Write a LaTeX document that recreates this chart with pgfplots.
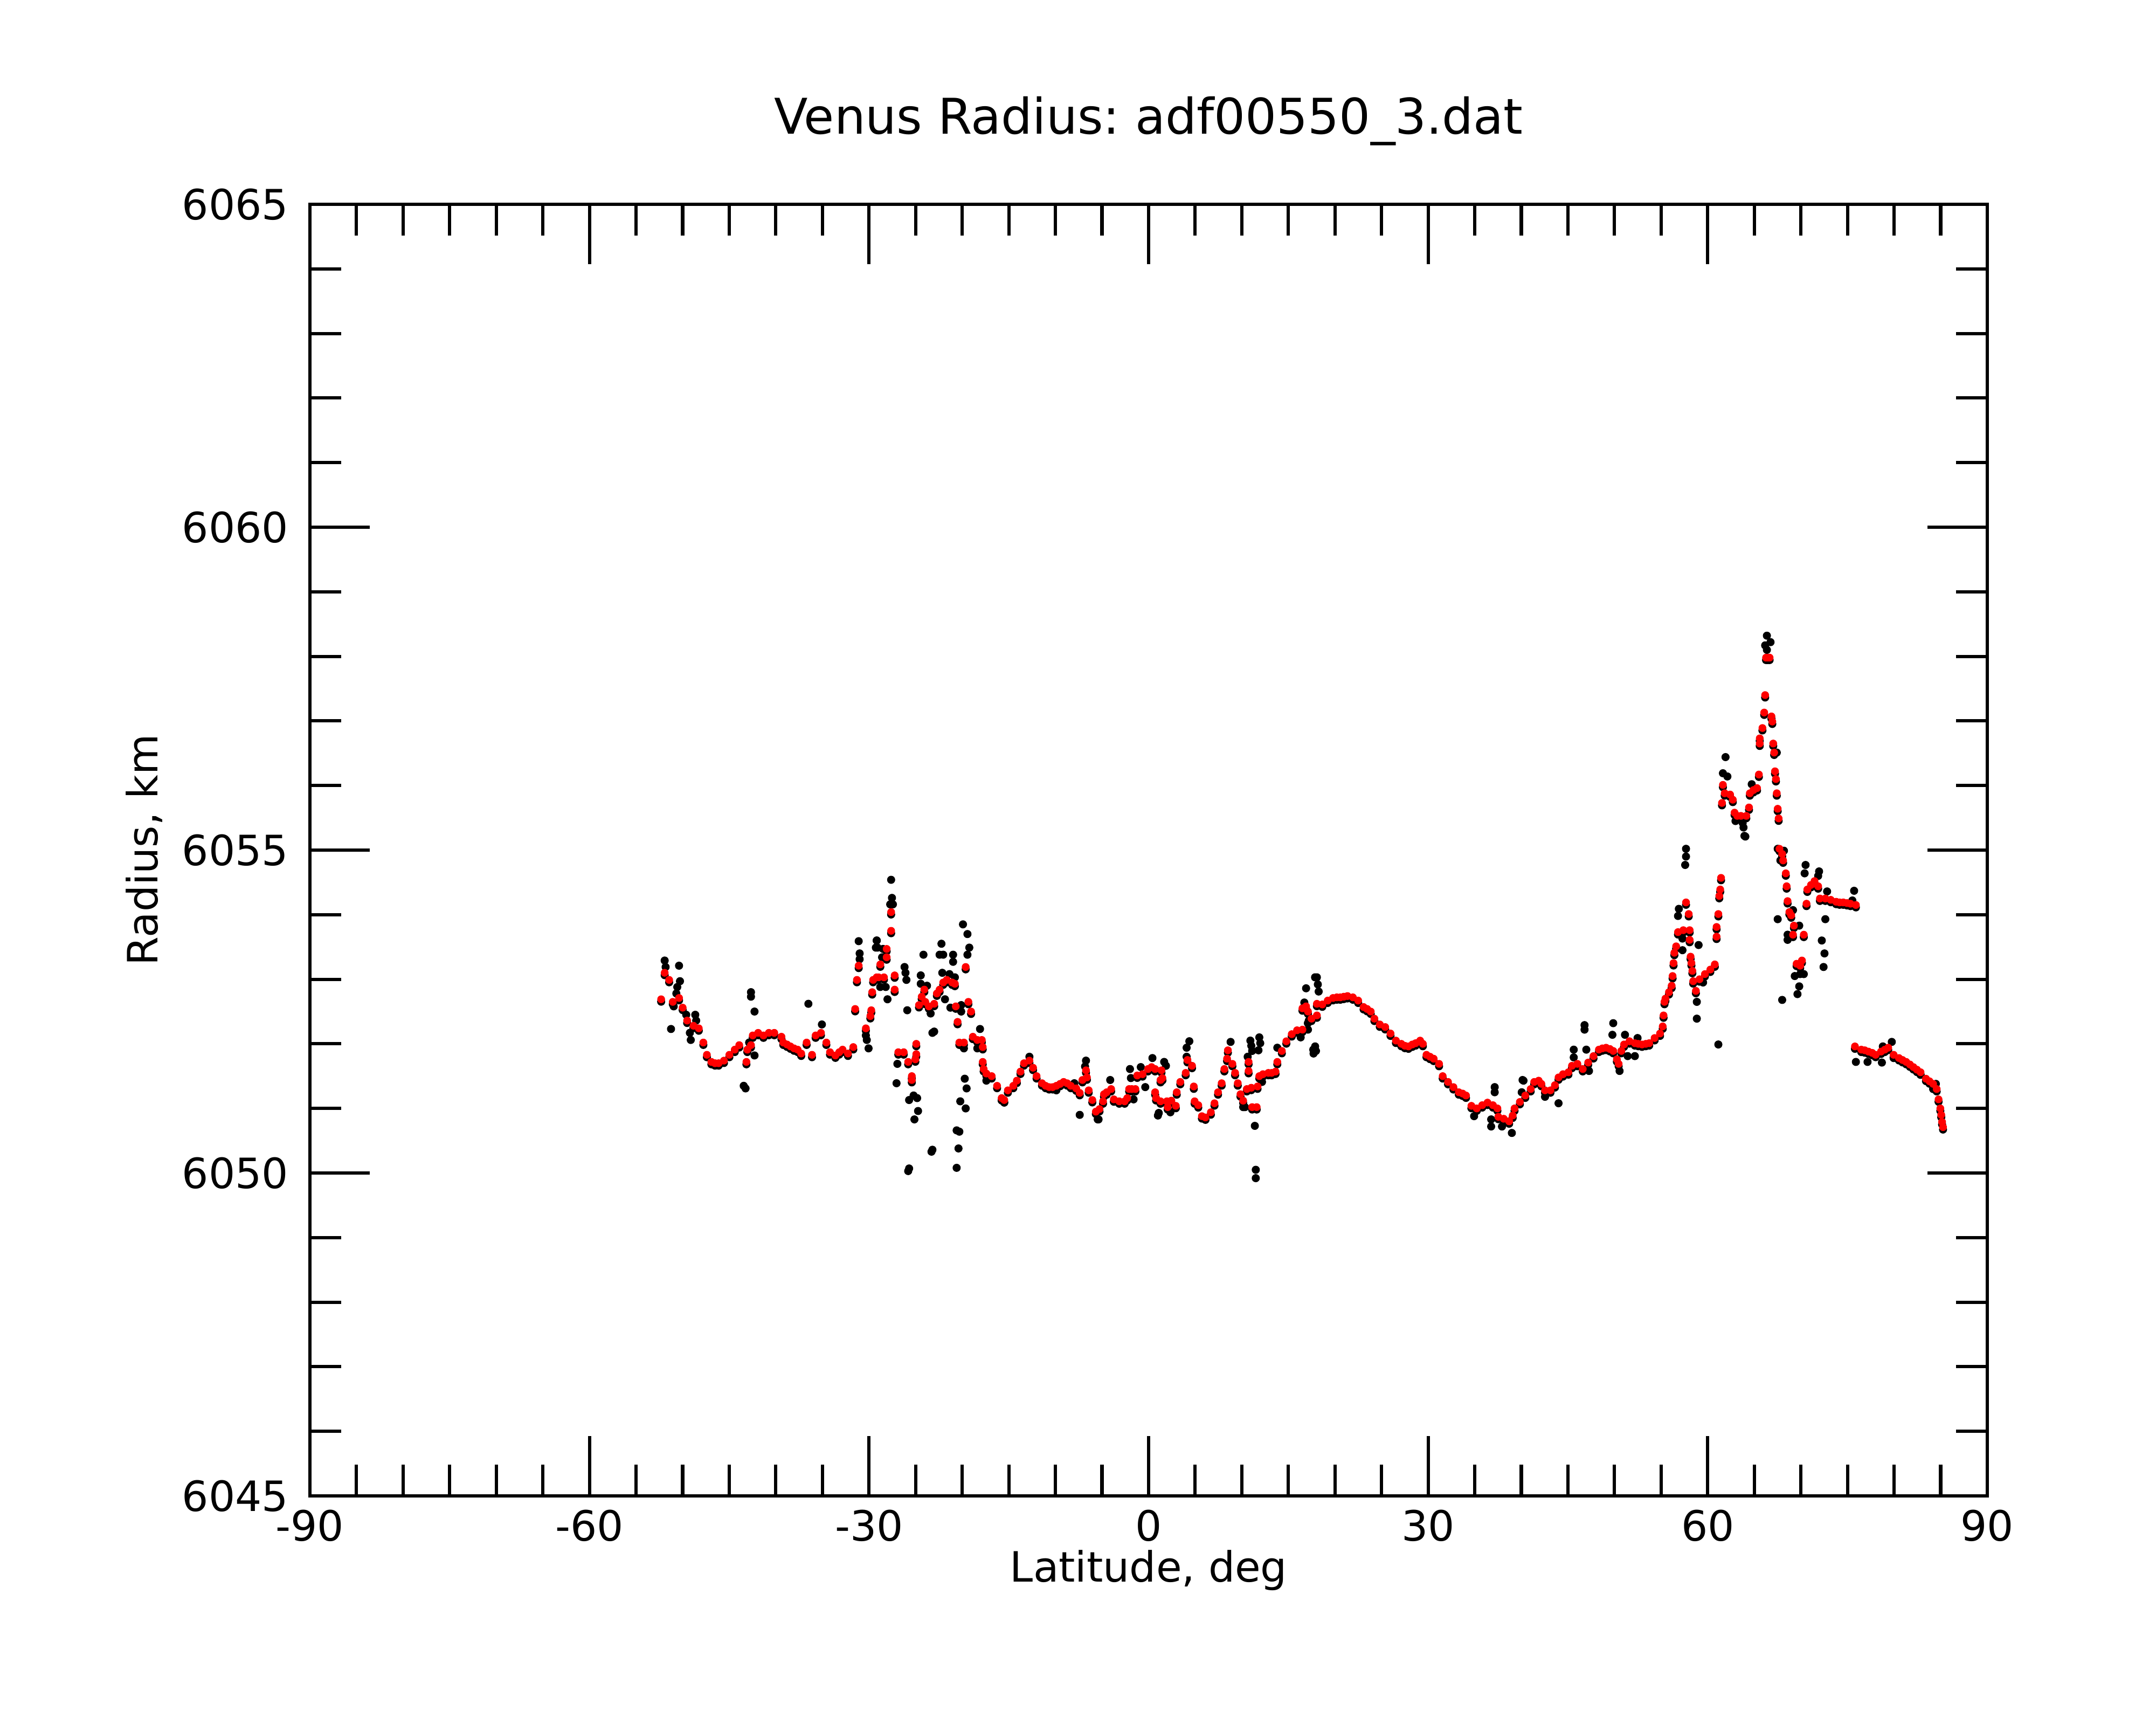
\documentclass[border=0pt]{standalone}
\usepackage{fontspec}
\setmainfont{DejaVu Sans}
\usepackage{pgfplots}
\usepackage{pgfplotstable}
\pgfplotsset{compat=1.18}
\frenchspacing

\pgfplotstableread{
lat r
-52.31 6052.69
-51.93 6053.10
-51.45 6052.99
-51.06 6052.65
-50.39 6052.71
-50.00 6052.56
-49.52 6052.36
-48.84 6052.28
-48.27 6052.24
-47.78 6052.02
-47.40 6051.83
-46.92 6051.72
-46.53 6051.70
-46.14 6051.70
-45.57 6051.74
-44.99 6051.83
-44.41 6051.91
-43.93 6051.98
-43.16 6051.72
-43.06 6051.91
-42.67 6051.98
-42.48 6052.13
-41.90 6052.17
-41.33 6052.13
-40.75 6052.17
-40.17 6052.17
-39.40 6052.11
-39.20 6052.02
-38.80 6051.99
-38.43 6051.96
-38.05 6051.93
-37.66 6051.91
-37.28 6051.85
-36.70 6052.02
-36.12 6051.83
-35.73 6052.13
-35.16 6052.17
-34.58 6052.02
-34.19 6051.87
-33.61 6051.82
-33.20 6051.87
-32.84 6051.91
-32.26 6051.85
-31.69 6051.95
-31.49 6052.54
-31.30 6052.99
-31.11 6053.21
-30.34 6052.24
-29.86 6052.43
-29.76 6052.52
-29.66 6052.80
-29.56 6052.99
-29.18 6053.03
-28.98 6053.03
-28.79 6053.23
-28.40 6053.03
-28.11 6053.34
-28.11 6053.47
-27.63 6053.75
-27.63 6054.04
-27.25 6053.06
-27.25 6052.84
-26.86 6051.87
-26.28 6051.87
-25.80 6051.72
-25.41 6051.50
-25.41 6051.44
-25.03 6051.76
-24.93 6052.00
-24.93 6051.84
-24.64 6052.60
-24.35 6052.73
-24.07 6052.84
-23.97 6052.65
-23.58 6052.58
-23.01 6052.62
-22.72 6052.78
-22.43 6052.84
-22.04 6052.95
-21.66 6052.99
-21.08 6052.95
-20.79 6052.93
-20.69 6052.58
-20.50 6052.34
-20.31 6052.02
-19.82 6052.02
-19.63 6053.19
-19.34 6052.65
-19.05 6052.50
-18.86 6052.11
-18.38 6052.06
-17.90 6052.06
-17.80 6051.95
-17.80 6051.72
-17.70 6051.61
-17.41 6051.54
-16.84 6051.50
-16.26 6051.35
-15.77 6051.16
-15.49 6051.13
-15.10 6051.28
-14.52 6051.35
-14.14 6051.43
-13.75 6051.57
-13.37 6051.70
-12.79 6051.74
-12.40 6051.63
-12.02 6051.50
-11.44 6051.39
-11.05 6051.35
-10.67 6051.33
-10.30 6051.33
-9.90 6051.35
-9.50 6051.38
-9.12 6051.41
-8.74 6051.39
-8.35 6051.35
-7.77 6051.31
-7.39 6051.24
-7.10 6051.44
-6.72 6051.59
-6.62 6051.48
-6.43 6051.28
-6.04 6051.13
-5.66 6050.95
-5.27 6050.99
-4.89 6051.11
-4.79 6051.22
-4.50 6051.25
-4.02 6051.30
-3.73 6051.14
-3.15 6051.11
-2.57 6051.11
-2.29 6051.16
-2.09 6051.30
-1.80 6051.30
-1.42 6051.30
-1.22 6051.51
-0.65 6051.53
-0.07 6051.61
0.32 6051.64
0.70 6051.61
0.70 6051.25
0.80 6051.16
1.28 6051.11
1.28 6051.44
1.38 6051.59
1.48 6051.47
1.96 6051.11
2.05 6051.02
2.44 6051.12
2.92 6051.04
3.02 6051.25
3.40 6051.41
3.98 6051.55
4.17 6051.75
4.66 6051.66
4.85 6051.34
4.94 6051.11
5.33 6051.05
5.72 6050.88
6.10 6050.86
6.68 6050.94
7.07 6051.08
7.45 6051.25
7.84 6051.39
8.13 6051.61
8.42 6051.77
8.51 6051.90
8.99 6051.69
9.28 6051.55
9.57 6051.39
9.86 6051.22
10.15 6051.12
10.54 6051.30
10.73 6051.58
10.73 6051.72
11.02 6051.32
11.11 6051.02
11.60 6051.02
11.69 6051.34
11.88 6051.50
12.27 6051.53
12.85 6051.55
13.20 6051.55
13.62 6051.57
13.81 6051.72
14.30 6051.89
14.78 6052.04
15.36 6052.15
15.93 6052.21
16.51 6052.22
16.51 6052.55
16.90 6052.58
17.10 6052.50
17.48 6052.39
18.06 6052.44
18.06 6052.62
18.64 6052.61
19.22 6052.67
19.79 6052.71
20.20 6052.72
20.57 6052.72
20.95 6052.73
21.34 6052.74
21.92 6052.72
22.49 6052.67
23.07 6052.57
23.45 6052.54
23.84 6052.50
24.23 6052.39
24.81 6052.30
25.39 6052.26
25.96 6052.16
26.54 6052.05
27.12 6052.00
27.50 6051.97
27.89 6051.96
28.30 6051.99
28.66 6052.01
29.14 6052.05
29.43 6052.00
29.82 6051.83
30.20 6051.80
30.59 6051.77
31.17 6051.69
31.56 6051.50
32.13 6051.41
32.71 6051.33
33.29 6051.25
33.70 6051.23
34.06 6051.20
34.64 6051.04
35.22 6051.00
35.80 6051.05
36.37 6051.09
36.95 6051.05
37.43 6051.00
37.53 6050.87
38.11 6050.84
38.69 6050.80
39.07 6050.89
39.27 6051.00
39.84 6051.10
40.42 6051.20
41.00 6051.30
41.38 6051.41
41.86 6051.43
42.15 6051.38
42.54 6051.28
43.12 6051.28
43.60 6051.36
43.99 6051.48
44.47 6051.53
45.05 6051.56
45.43 6051.66
46.01 6051.69
46.59 6051.61
47.17 6051.71
47.74 6051.81
48.32 6051.91
48.70 6051.93
49.09 6051.94
49.50 6051.92
49.86 6051.89
50.25 6051.76
50.44 6051.69
50.73 6051.89
51.02 6051.99
51.60 6052.04
52.18 6052.01
52.55 6052.00
52.95 6051.99
53.35 6052.00
53.72 6052.01
54.30 6052.09
54.88 6052.16
55.17 6052.27
55.26 6052.44
55.36 6052.65
55.46 6052.70
55.84 6052.80
56.13 6052.90
56.23 6053.05
56.33 6053.25
56.42 6053.41
56.61 6053.51
56.81 6053.73
57.38 6053.76
57.67 6054.19
57.96 6054.01
58.06 6053.76
58.06 6053.61
58.16 6053.35
58.25 6053.25
58.35 6053.13
58.44 6052.97
58.73 6052.82
59.12 6053.00
59.70 6053.08
60.28 6053.15
60.76 6053.23
60.95 6053.66
60.95 6053.81
61.14 6054.01
61.24 6054.29
61.34 6054.39
61.43 6054.57
61.53 6055.73
61.63 6056.01
61.82 6055.88
62.40 6055.86
62.69 6055.78
62.88 6055.58
63.17 6055.53
63.56 6055.53
64.14 6055.53
64.43 6055.66
64.52 6055.88
64.91 6055.93
65.29 6055.96
65.49 6056.17
65.58 6056.65
65.58 6056.73
65.87 6056.89
66.06 6057.13
66.16 6057.40
66.26 6057.98
66.45 6057.98
66.64 6057.98
66.84 6057.07
66.93 6056.99
67.03 6056.65
67.13 6056.51
67.22 6056.22
67.32 6056.10
67.41 6055.88
67.51 6055.64
67.61 6055.49
67.70 6055.02
67.99 6054.94
68.09 6054.84
68.38 6054.64
68.47 6054.44
68.57 6054.21
68.76 6054.04
68.96 6053.99
69.15 6053.69
69.25 6053.83
69.54 6053.24
69.92 6053.21
70.11 6053.29
70.31 6053.69
70.60 6054.17
70.69 6054.39
71.08 6054.46
71.46 6054.52
71.85 6054.44
72.04 6054.25
72.62 6054.25
73.20 6054.23
73.78 6054.20
74.15 6054.19
74.55 6054.19
74.95 6054.18
75.32 6054.17
75.90 6054.15
75.80 6051.96
76.48 6051.91
76.85 6051.90
77.25 6051.88
77.65 6051.86
78.02 6051.83
78.60 6051.88
79.00 6051.91
79.37 6051.94
79.95 6051.83
80.52 6051.78
80.90 6051.75
81.30 6051.72
81.70 6051.68
82.07 6051.64
82.45 6051.60
82.84 6051.56
83.42 6051.46
83.80 6051.42
84.19 6051.38
84.57 6051.30
84.77 6051.14
84.96 6051.00
85.06 6050.90
85.15 6050.79
85.25 6050.71
}\reddata

\pgfplotstableread{
lat r
-51.93 6053.29
-51.83 6053.19
-50.39 6053.21
-50.29 6052.97
-50.58 6052.88
-50.68 6052.78
-51.25 6052.23
-50.96 6052.58
-49.62 6052.45
-48.65 6052.45
-48.55 6052.36
-49.23 6052.17
-49.13 6052.06
-42.67 6052.80
-42.67 6052.73
-42.29 6052.50
-43.25 6051.31
-43.45 6051.35
-36.51 6052.62
-35.06 6052.30
-31.11 6053.59
-31.01 6053.40
-31.01 6053.31
-29.18 6053.60
-29.09 6053.49
-30.24 6052.06
-30.05 6051.93
-30.34 6052.13
-28.80 6052.88
-42.87 6052.02
-42.29 6051.82
-27.63 6054.54
-27.54 6054.26
-27.73 6054.16
-27.44 6054.16
-29.17 6053.60
-29.27 6053.49
-28.50 6053.47
-28.60 6053.34
-28.21 6052.88
-28.02 6052.69
-26.19 6053.19
-26.09 6053.10
-25.99 6052.99
-25.90 6052.52
-26.96 6051.69
-27.05 6051.39
-25.70 6050.07
-25.80 6050.03
-25.70 6051.13
-25.22 6051.20
-24.84 6051.16
-24.74 6050.96
-25.13 6050.83
-24.16 6053.38
-24.45 6053.06
-24.45 6052.93
-23.78 6052.90
-23.39 6052.47
-23.01 6052.19
-23.20 6052.17
-23.30 6050.33
-23.20 6050.36
-22.23 6053.55
-22.43 6053.38
-22.04 6053.38
-22.14 6053.10
-20.98 6053.38
-20.98 6053.27
-21.37 6053.08
-20.79 6053.03
-21.85 6052.69
-21.27 6052.56
-20.11 6052.60
-20.11 6052.50
-19.92 6053.85
-19.44 6053.70
-19.24 6053.49
-19.44 6053.38
-19.82 6051.93
-19.73 6051.46
-19.53 6051.31
-20.21 6051.11
-19.63 6051.00
-20.60 6050.66
-20.31 6050.64
-20.40 6050.38
-20.60 6050.08
-18.09 6052.23
-18.38 6051.93
-17.41 6051.43
-15.49 6051.09
-12.79 6051.80
-6.72 6051.74
-6.82 6051.65
-7.39 6050.90
-7.97 6051.39
-9.90 6051.28
-5.46 6050.83
-5.37 6050.83
-4.12 6051.44
-2.00 6051.61
-1.90 6051.47
-1.61 6051.14
-0.84 6051.64
-0.36 6051.33
0.41 6051.78
1.09 6050.93
1.00 6050.89
1.67 6051.72
1.86 6051.66
2.34 6050.94
4.37 6052.04
4.08 6051.94
4.08 6051.80
8.80 6052.03
10.92 6052.05
11.02 6051.97
11.88 6052.10
11.98 6052.01
11.79 6051.90
11.11 6051.89
10.63 6051.80
11.40 6050.73
11.50 6050.05
11.50 6049.92
10.15 6051.02
10.34 6051.02
12.17 6051.41
13.81 6051.94
16.90 6052.86
16.71 6052.64
17.09 6052.32
17.67 6051.91
17.70 6051.85
16.32 6052.10
17.86 6053.03
18.06 6053.03
18.16 6052.92
18.25 6052.81
17.19 6052.36
17.10 6052.22
17.87 6051.96
17.96 6051.89
37.14 6051.33
37.14 6051.25
36.76 6050.83
36.76 6050.72
37.92 6050.72
38.98 6050.62
40.13 6051.44
40.04 6051.25
34.93 6050.88
61.91 6056.44
61.63 6056.19
62.11 6056.14
62.98 6055.45
63.84 6055.35
63.94 6055.22
57.67 6055.02
57.67 6054.90
57.58 6054.77
56.90 6054.09
56.81 6053.98
57.29 6053.63
57.29 6053.45
59.02 6053.53
58.83 6052.65
58.83 6052.39
59.50 6052.95
61.14 6051.99
46.78 6052.29
46.78 6052.22
46.97 6051.91
47.26 6051.58
45.62 6051.91
45.62 6051.79
43.99 6051.08
40.23 6051.43
49.86 6052.32
49.77 6052.14
50.54 6051.58
51.12 6052.14
52.18 6051.81
52.47 6052.09
51.41 6051.81
42.54 6051.18
66.35 6058.32
66.16 6058.17
66.74 6058.22
66.35 6058.10
67.41 6056.51
67.51 6055.02
68.18 6054.99
67.80 6054.84
67.51 6053.93
68.57 6053.61
69.15 6054.07
68.57 6053.69
69.82 6053.83
69.34 6053.05
69.92 6053.08
70.31 6053.08
69.82 6052.89
69.63 6052.77
67.99 6052.68
70.50 6054.77
70.40 6054.64
71.95 6054.67
71.85 6054.60
72.62 6053.93
72.24 6053.60
72.53 6053.40
72.43 6053.19
72.81 6054.36
75.71 6054.37
75.52 6054.22
64.04 6055.21
63.75 6055.42
64.72 6056.02
75.90 6051.72
77.15 6051.72
78.69 6051.71
78.79 6051.96
79.75 6052.03
79.95 6051.78
81.11 6051.72
82.84 6051.52
84.19 6051.30
84.48 6051.38
}\blackdata

\begin{document}
\begin{tikzpicture}
\useasboundingbox (-103.5bp,-76.5bp) rectangle (616.5bp,499.5bp);
\begin{axis}[
  at={(0,0)}, anchor=south west,
  scale only axis,
  width=560.16bp, height=431.28bp,
  xmin=-90, xmax=90, ymin=6045, ymax=6065,
  xtick={-90,-60,...,90},
  ytick={6045,6050,...,6065},
  minor x tick num=5,
  minor y tick num=4,
  tick align=inside,
  major tick length=20bp,
  minor tick length=10.4bp,
  axis line style={line width=1bp},
  every tick/.append style={line width=1.1bp, black},
  /pgf/number format/assume math mode=true,
  /pgf/number format/1000 sep={},
  tick label style={font=\fontsize{14}{17}\selectfont},
  xticklabel style={anchor=north, inner sep=0pt, yshift=-4.5bp},
  yticklabel style={anchor=east, inner sep=0pt, xshift=-7.0bp},
  title={Venus Radius: adf00550\_3.dat},
  title style={at={(axis description cs:0.5,1.04058)}, anchor=base, inner sep=0pt, font=\fontsize{16.5}{20}\selectfont},
  xlabel={Latitude, deg},
  xlabel style={at={(axis description cs:0.5,-0.06678)}, anchor=base, inner sep=0pt, font=\fontsize{14}{17}\selectfont},
  ylabel={Radius, km},
  ylabel style={at={(axis description cs:-0.09087,0.5)}, anchor=base, inner sep=0pt, font=\fontsize{14}{17}\selectfont},
  clip=true,
]
\addplot[only marks, mark=*, mark size=1.15bp, black, mark options={draw=none, fill=black, yshift=-0.8bp}] table[x=lat, y=r] {\reddata};
\addplot[only marks, mark=*, mark size=1.15bp, black, mark options={draw=none, fill=black}] table[x=lat, y=r] {\blackdata};
\addplot[only marks, mark=*, mark size=1.1bp, red, mark options={draw=none, fill=red}] table[x=lat, y=r] {\reddata};
\end{axis}
\end{tikzpicture}
\end{document}
